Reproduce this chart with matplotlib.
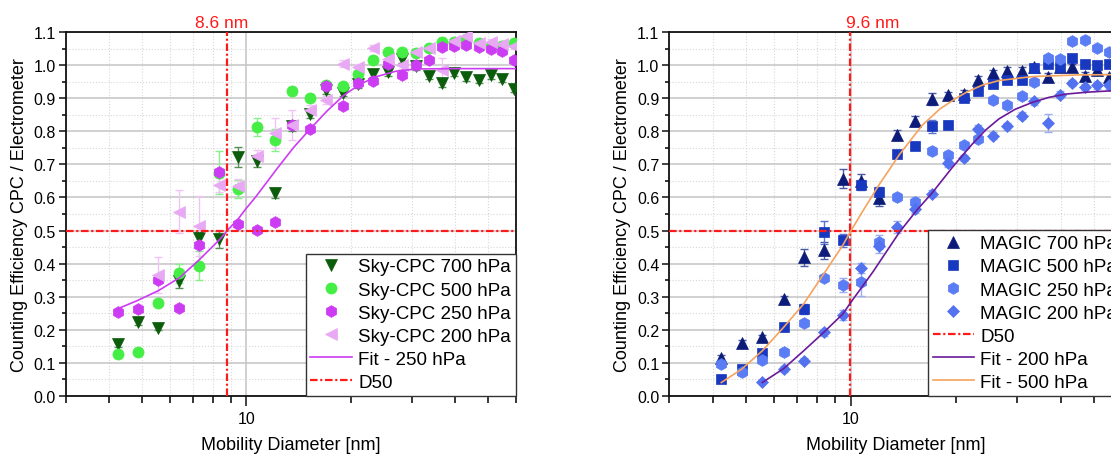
import matplotlib.pyplot as plt
from matplotlib.ticker import NullFormatter
import numpy as np

plt.rcParams['font.family'] = ['Liberation Sans', 'DejaVu Sans']

# mobility diameter bins [nm]
diam = [4.24, 4.86, 5.56, 6.40, 7.31, 8.35, 9.46, 10.71, 12.05, 13.58, 15.24, 17.03, 19.03,
        21.07, 23.2, 25.6, 28.1, 30.9, 33.6, 36.7, 39.7, 43.2, 47.0, 50.9, 54.9, 59.2]

# ---- Sky-CPC ----
sky700 = [0.156, 0.222, 0.206, 0.346, 0.477, 0.473, 0.722, 0.711, 0.614, 0.815, 0.853, 0.924, 0.916,
          0.942, 0.975, 0.979, 1.020, 0.997, 0.969, 0.945, 0.977, 0.964, 0.955, 0.970, 0.960, 0.929]
sky700_err = [0.008, 0.008, 0.008, 0.020, 0.020, 0.025, 0.030, 0.018, 0.015, 0.015, 0.012, 0.012, 0.010,
              0.010, 0.010, 0.010, 0.012, 0.010, 0.010, 0.010, 0.010, 0.010, 0.010, 0.010, 0.010, 0.010]
sky500 = [0.126, 0.131, 0.282, 0.370, 0.394, 0.675, 0.626, 0.813, 0.774, 0.922, 0.902, 0.940, 0.938,
          0.974, 1.017, 1.040, 1.040, 1.037, 1.052, 1.072, 1.070, 1.080, 1.068, 1.060, 1.058, 1.068]
sky500_err = [0.005, 0.005, 0.008, 0.030, 0.045, 0.065, 0.028, 0.028, 0.032, 0.010, 0.010, 0.010, 0.010,
              0.010, 0.010, 0.010, 0.010, 0.010, 0.010, 0.010, 0.010, 0.010, 0.010, 0.010, 0.010, 0.010]
sky250 = [0.252, 0.263, 0.351, 0.267, 0.457, 0.676, 0.520, 0.503, 0.525, 0.818, 0.808, 0.936, 0.878,
          0.948, 0.952, 1.005, 0.971, 1.000, 1.015, 1.056, 1.057, 1.063, 1.055, 1.050, 1.043, 1.017]
sky250_err = [0.005] * 26
diam200 = diam[2:]
sky200 = [0.366, 0.557, 0.513, 0.638, 0.636, 0.725, 0.795, 0.820, 0.866, 0.894, 1.005,
          0.995, 1.053, 1.020, 1.000, 1.040, 1.052, 0.985, 1.074, 1.090, 1.068, 1.070, 1.065, 1.058]
sky200_err = [0.055, 0.065, 0.090, 0.020, 0.020, 0.020, 0.045, 0.045, 0.015, 0.012, 0.010,
              0.010, 0.010, 0.010, 0.010, 0.010, 0.010, 0.037, 0.010, 0.010, 0.010, 0.010, 0.010, 0.010]

fit250_d = [4.24, 4.86, 5.56, 6.40, 7.31, 8.35, 8.8, 9.46, 10.0, 10.6, 12.27, 13.7, 15.3, 17.1, 19.1,
            21.3, 23.8, 27.0, 31.0, 40.0, 60.0]
fit250_y = [0.263, 0.289, 0.318, 0.357, 0.412, 0.472, 0.500, 0.535, 0.568, 0.600, 0.688, 0.752, 0.808,
            0.862, 0.909, 0.943, 0.966, 0.982, 0.989, 0.990, 0.990]

# ---- MAGIC ----
mag700 = [0.114, 0.160, 0.177, 0.293, 0.419, 0.440, 0.657, 0.651, 0.598, 0.788, 0.831, 0.899, 0.909,
          0.914, 0.957, 0.977, 0.984, 0.984, 0.994, 0.966, 0.994, 0.994, 0.969, 0.987, 0.964]
mag700_err = [0.008, 0.008, 0.008, 0.010, 0.025, 0.025, 0.028, 0.020, 0.025, 0.015, 0.015, 0.018, 0.010,
              0.010, 0.010, 0.010, 0.010, 0.010, 0.010, 0.010, 0.010, 0.010, 0.010, 0.010, 0.010]
mag500 = [0.050, 0.081, 0.128, 0.207, 0.263, 0.495, 0.470, 0.637, 0.618, 0.731, 0.756, 0.816, 0.820,
          0.901, 0.921, 0.944, 0.957, 0.957, 0.992, 1.004, 0.996, 1.022, 1.004, 1.001, 1.004]
mag500_err = [0.005, 0.005, 0.010, 0.010, 0.015, 0.035, 0.020, 0.015, 0.015, 0.010, 0.010, 0.020, 0.010,
              0.010, 0.010, 0.010, 0.010, 0.010, 0.010, 0.010, 0.010, 0.010, 0.010, 0.010, 0.010]
mag250 = [0.096, 0.071, 0.109, 0.131, 0.220, 0.356, 0.335, 0.343, 0.465, 0.602, 0.587, 0.740, 0.728,
          0.758, 0.778, 0.894, 0.879, 0.907, 0.949, 1.022, 1.018, 1.073, 1.078, 1.052, 1.040]
mag250_err = [0.010, 0.010, 0.010, 0.010, 0.010, 0.010, 0.020, 0.040, 0.020, 0.012, 0.015, 0.012, 0.012,
              0.010, 0.010, 0.010, 0.010, 0.010, 0.010, 0.010, 0.010, 0.010, 0.010, 0.010, 0.010]
mag200 = [0.042, 0.081, 0.106, 0.192, 0.244, 0.386, 0.452, 0.512, 0.565, 0.612, 0.703, 0.720,
          0.808, 0.787, 0.815, 0.848, 0.891, 0.825, 0.911, 0.946, 0.934, 0.939, 0.939]
mag200_err = [0.005, 0.008, 0.008, 0.010, 0.015, 0.015, 0.020, 0.018, 0.012, 0.010, 0.010, 0.010,
              0.010, 0.010, 0.010, 0.010, 0.010, 0.028, 0.010, 0.010, 0.010, 0.010, 0.010]

fit200_d = [5.56, 6.40, 7.31, 8.35, 9.46, 10.1, 11.54, 13.77, 15.4, 17.16, 19.5, 22.3, 24.4, 26.6,
            29.6, 33.2, 37.0, 41.4, 48.0, 56.3, 60.0]
fit200_y = [0.040, 0.082, 0.136, 0.192, 0.247, 0.290, 0.374, 0.495, 0.560, 0.616, 0.690, 0.762, 0.805,
            0.838, 0.867, 0.888, 0.903, 0.913, 0.919, 0.923, 0.924]
fit500_d = [4.24, 4.86, 5.56, 6.40, 7.31, 8.35, 9.46, 10.0, 10.75, 12.06, 13.77, 16.05, 18.0, 20.0,
            21.4, 23.8, 26.6, 33.2, 45.0, 60.0]
fit500_y = [0.040, 0.081, 0.136, 0.207, 0.278, 0.369, 0.455, 0.500, 0.555, 0.640, 0.730, 0.820, 0.868,
            0.900, 0.918, 0.940, 0.954, 0.966, 0.971, 0.972]

d50_left, d50_right = 8.8, 9.96
d50_left_text, d50_right_text = '8.6 nm', '9.6 nm'

red = '#ff1a1a'
dashdot = (0, (3.4, 1.2, 0.95, 1.2))

fig = plt.figure(figsize=(11.11, 4.56), dpi=100)
ax1 = fig.add_axes([0.0591, 0.130, 0.405, 0.797])
ax2 = fig.add_axes([0.6022, 0.130, 0.4077, 0.797])


def style_axes(ax):
    ax.set_xscale('log')
    ax.set_xlim(3, 60)
    ax.set_ylim(0, 1.1)
    ax.set_xticks([10])
    ax.set_xticklabels(['10'])
    ax.set_xticks([3, 4, 5, 6, 7, 8, 9, 20, 30, 40, 50, 60], minor=True)
    ax.xaxis.set_minor_formatter(NullFormatter())
    ax.set_yticks(np.round(np.arange(0, 1.11, 0.1), 2))
    ax.set_yticks(np.round(np.arange(0.05, 1.1, 0.1), 2), minor=True)
    ax.yaxis.set_major_formatter('{x:.1f}')
    ax.grid(which='major', color='#c4c4c4', lw=1.1)
    ax.grid(which='minor', color='#d8d8d8', lw=0.8, ls=':')
    ax.set_axisbelow(True)
    ax.tick_params(axis='both', which='major', labelsize=11.5, width=1.2, color='#222222')
    ax.tick_params(axis='y', which='major', length=5, pad=2)
    ax.tick_params(axis='y', which='minor', length=3, width=1.1)
    ax.tick_params(axis='x', which='major', length=7, pad=4)
    ax.tick_params(axis='x', which='minor', length=5, width=1.1)
    for s in ax.spines.values():
        s.set_linewidth(1.3)
        s.set_color('#111111')
    ax.set_xlabel('Mobility Diameter [nm]', fontsize=13, labelpad=7)
    ax.set_ylabel('Counting Efficiency CPC / Electrometer', fontsize=13, labelpad=4)


def series(ax, x, y, err, color, ecolor, marker, ms, label):
    ax.errorbar(x, y, yerr=err, fmt='none', ecolor=ecolor, elinewidth=1, capsize=3, capthick=1, zorder=2)
    h, = ax.plot(x, y, ls='none', marker=marker, ms=ms, color=color, mec=color, mew=0.5, label=label, zorder=3)
    return h


leg_kw = dict(loc='lower right', bbox_to_anchor=(1, 0), borderaxespad=0,
              fontsize=13.5, frameon=True, fancybox=False, framealpha=1, edgecolor='#333333',
              handlelength=2.2, handletextpad=0.35, labelspacing=0.32, borderpad=0.25)

# ---- left panel ----
style_axes(ax1)
h = []
h.append(series(ax1, diam, sky700, sky700_err, '#0b5c0b', '#5a8f5a', 'v', 8, 'Sky-CPC 700 hPa'))
h.append(series(ax1, diam, sky500, sky500_err, '#44ee44', '#88f088', 'o', 8, 'Sky-CPC 500 hPa'))
h.append(series(ax1, diam, sky250, sky250_err, '#cc3cf2', '#d98cf0', 'h', 8.5, 'Sky-CPC 250 hPa'))
h.append(series(ax1, diam200, sky200, sky200_err, '#e8a8f4', '#f0c4f6', '<', 8, 'Sky-CPC 200 hPa'))
fl, = ax1.plot(fit250_d, fit250_y, color='#cc3cf2', lw=1.2, label='Fit - 250 hPa', zorder=4)
dl = ax1.axvline(d50_left, color=red, lw=1.6, ls=dashdot, label='D50', zorder=4)
ax1.axhline(0.5, color=red, lw=1.6, ls=dashdot, zorder=4)
ax1.annotate(d50_left_text, xy=(d50_left, 1), xycoords=('data', 'axes fraction'),
             xytext=(-6, 10), textcoords='offset pixels', ha='center', va='center',
             color=red, fontsize=12.5)
ax1.legend(handles=h + [fl, dl], **leg_kw)

# ---- right panel ----
style_axes(ax2)
h = []
h.append(series(ax2, diam[:25], mag700, mag700_err, '#0c1c78', '#4a5aa0', '^', 8, 'MAGIC 700 hPa'))
h.append(series(ax2, diam[:25], mag500, mag500_err, '#1838c0', '#5a72d0', 's', 7, 'MAGIC 500 hPa'))
h.append(series(ax2, diam[:25], mag250, mag250_err, '#5a7cf4', '#9aaef6', 'h', 8.5, 'MAGIC 250 hPa'))
h.append(series(ax2, diam[2:25], mag200, mag200_err, '#5272f0', '#9aaef6', 'D', 6.5, 'MAGIC 200 hPa'))
dl = ax2.axvline(d50_right, color=red, lw=1.6, ls=dashdot, label='D50', zorder=4)
ax2.axhline(0.5, color=red, lw=1.6, ls=dashdot, zorder=4)
f2, = ax2.plot(fit200_d, fit200_y, color='#6a1a9a', lw=1.2, label='Fit - 200 hPa', zorder=4)
f5, = ax2.plot(fit500_d, fit500_y, color='#f6a35e', lw=1.2, label='Fit - 500 hPa', zorder=4)
ax2.annotate(d50_right_text, xy=(d50_right, 1), xycoords=('data', 'axes fraction'),
             xytext=(22, 10), textcoords='offset pixels', ha='center', va='center',
             color=red, fontsize=12.5)
ax2.legend(handles=h + [dl, f2, f5], **leg_kw)

fig.savefig('out.png', dpi=100)
